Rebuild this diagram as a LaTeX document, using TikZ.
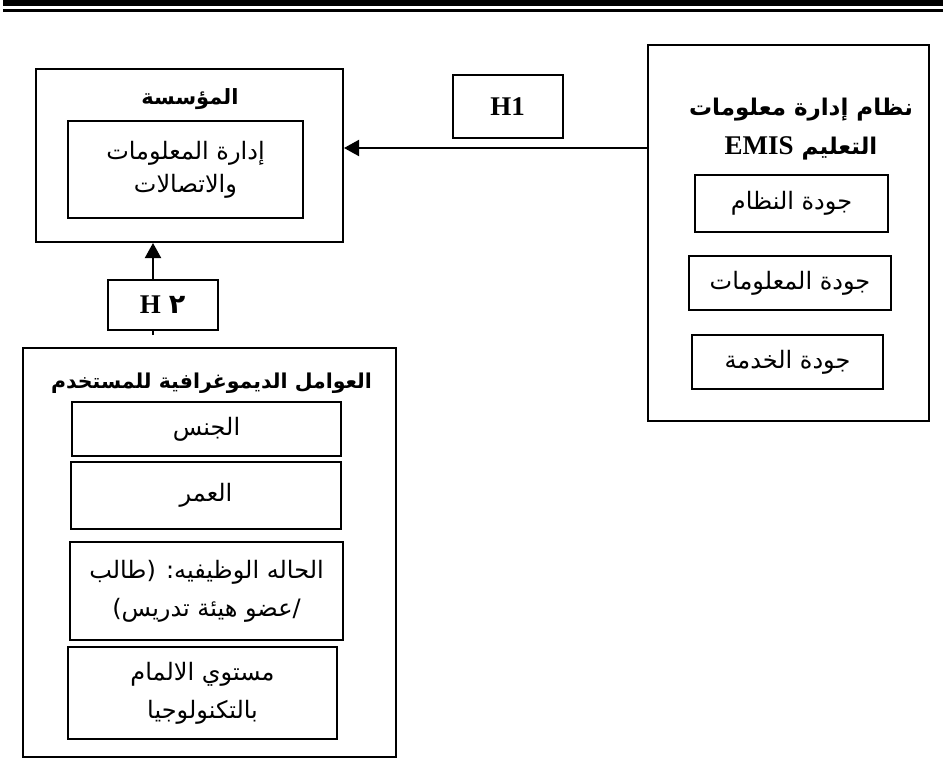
\documentclass[tikz,border=0pt]{standalone}
\usepackage{fontspec}
\usetikzlibrary{arrows.meta}
\TeXXeTstate=1
\newfontfamily\arabicfont[Script=Arabic]{DejaVu Sans}
\newfontfamily\latinfont{Liberation Serif}
\newcommand{\artxt}[1]{{\arabicfont\beginR #1\endR}}

\begin{document}
\begin{tikzpicture}[x=1pt, y=-1pt]
    % ================= 样式定义 =================
    \tikzset{
        % 外框:粗黑边
        outerbox/.style={draw=black, line width=2pt, fill=white, inner sep=0pt},
        % 内框:白底黑边,居中文字
        itembox/.style={draw=black, line width=2pt, fill=white, inner sep=0pt, align=center, font=\fontsize{24}{38}\selectfont},
        % 粗体标题
        titletext/.style={align=center, font=\fontsize{21}{39}\selectfont\bfseries},
        % 假设框 H1 / H2
        hbox/.style={draw=black, line width=2pt, fill=white, minimum width=110pt, font=\latinfont\bfseries\fontsize{27}{30}\selectfont},
        % 箭头
        link/.style={line width=2pt, -{Triangle[length=15pt, width=16pt]}}
    }
    \useasboundingbox (0,0) rectangle (943,761);

    % ================= 顶部双线 =================
    \fill (3,0) rectangle (943,6);
    \fill (3,9) rectangle (943,12);

    % ================= 左上:المؤسسة =================
    \node[outerbox, minimum width=307pt, minimum height=173pt] (org) at (189.5,155.5) {};
    \node[titletext] (orgtitle) at (190,99) {\artxt{المؤسسة}};
    \node[itembox, minimum width=235pt, minimum height=97pt, font=\fontsize{24}{33}\selectfont] (orgitem) at (185.5,169.5)
        {\artxt{إدارة المعلومات}\\\artxt{والاتصالات}};

    % ================= 右侧:EMIS =================
    \node[outerbox, minimum width=281pt, minimum height=376pt] (emis) at (788.5,233) {};
    \node[titletext, font=\fontsize{23}{39}\selectfont\bfseries] (emistitle) at (801,129.5)
        {\artxt{نظام إدارة معلومات}\\{\arabicfont\beginR التعليم {\latinfont\fontsize{27}{30}\selectfont EMIS}\endR}};
    \foreach \nm/\cx/\cy/\w/\h/\txt in {sysq/791.5/203.5/193/57/{جودة النظام},
                                        infoq/790/283/202/54/{جودة المعلومات},
                                        servq/787.5/362/191/54/{جودة الخدمة}} {
        \node[itembox, minimum width=\w pt, minimum height=\h pt] (\nm) at (\cx,\cy) {\artxt{\txt}};
    }

    % ================= H1:EMIS -> المؤسسة =================
    \node[hbox, minimum height=63pt] (h1) at (507.5,106.5) {H1};
    \coordinate (h1tail) at (648,148);
    \draw[link] (h1tail) -- (h1tail -| org.east);

    % ================= 左下:العوامل الديموغرافية =================
    \node[outerbox, minimum width=373pt, minimum height=409pt] (demo) at (209.5,552.5) {};
    \node[titletext, font=\fontsize{20.5}{39}\selectfont\bfseries] (demotitle) at (211.5,383) {\artxt{العوامل الديموغرافية للمستخدم}};
    \foreach \nm/\cx/\cy/\w/\h/\txt in {gender/206.5/429/269/54/{\artxt{الجنس}},
                                        age/206/495.5/270/67/{\artxt{العمر}},
                                        job/206.5/591/273/98/{\artxt{الحاله الوظيفيه: (طالب}\\\artxt{/عضو هيئة تدريس)}},
                                        tech/202.5/693/269/92/{\artxt{مستوي الالمام}\\\artxt{بالتكنولوجيا}}} {
        \node[itembox, minimum width=\w pt, minimum height=\h pt] (\nm) at (\cx,\cy) {\txt};
    }

    % ================= H2:العوامل -> المؤسسة =================
    \coordinate (h2tail) at (153,335);
    \draw[link] (h2tail) -- (h2tail |- org.south);
    \node[hbox, minimum height=50pt] (h2) at (162.5,305) {H\hspace{8pt}{\arabicfont ٢}};

\end{tikzpicture}
\end{document}
